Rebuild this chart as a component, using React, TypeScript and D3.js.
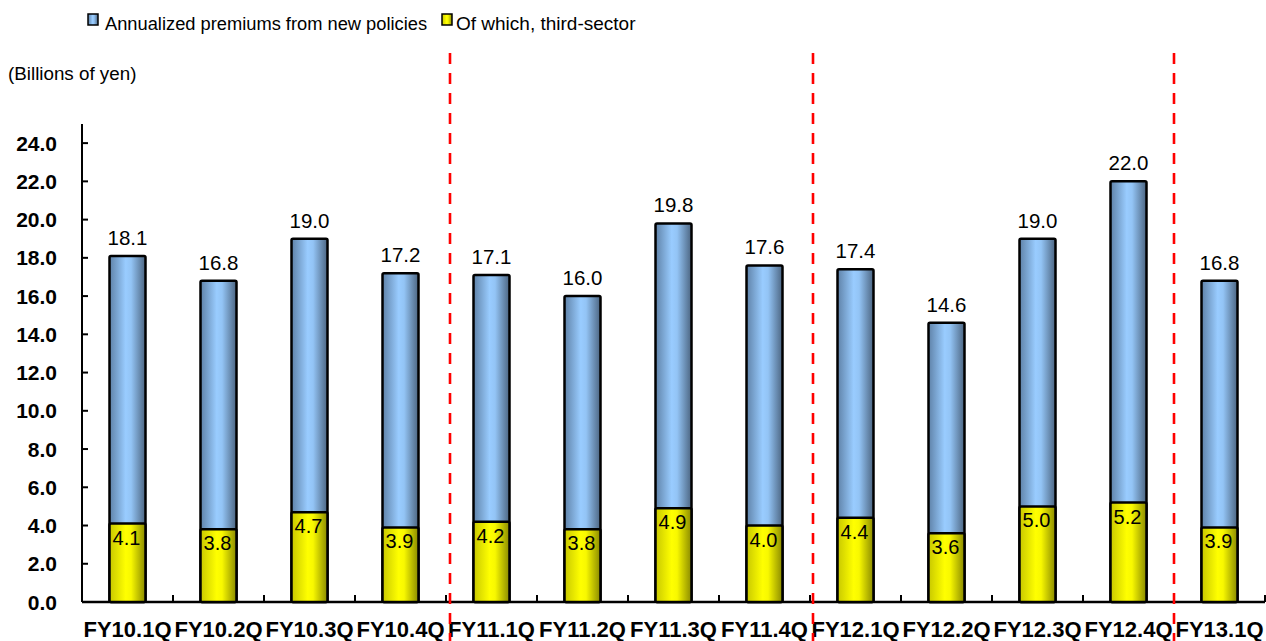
import React from "react";
import * as d3 from "d3";

const categories = ["FY10.1Q","FY10.2Q","FY10.3Q","FY10.4Q","FY11.1Q","FY11.2Q","FY11.3Q","FY11.4Q","FY12.1Q","FY12.2Q","FY12.3Q","FY12.4Q","FY13.1Q"];
const totals = [18.1,16.8,19.0,17.2,17.1,16.0,19.8,17.6,17.4,14.6,19.0,22.0,16.8];
const thirdSector = [4.1,3.8,4.7,3.9,4.2,3.8,4.9,4.0,4.4,3.6,5.0,5.2,3.9];
const yTicks = [0,2,4,6,8,10,12,14,16,18,20,22,24];
const dividerAfter = [4, 8, 12];
const legendLabels = ["Annualized premiums from new policies", "Of which, third-sector"];
const unitLabel = "(Billions of yen)";

const W = 1266, H = 641;
const left = 82, right = 1265, top = 124, bottom = 602;
const FONT = "Arial, 'Liberation Sans', sans-serif";

export default function App() {
  const x = d3.scaleBand<string>().domain(categories).range([left, right]).paddingInner(0).paddingOuter(0);
  const y = d3.scaleLinear().domain([0, 25]).range([bottom, top]);
  const bw = 36;
  const fmt = d3.format(".1f");
  const bandEdges = d3.range(categories.length + 1).map(i => left + i * x.bandwidth());

  return (
    <svg width={W} height={H} style={{ position: "absolute", left: 0, top: 0, background: "#fff" }} fontFamily={FONT}>
      <defs>
        <linearGradient id="gBlue" x1="0" x2="1" y1="0" y2="0">
          <stop offset="0" stopColor="#5f82a8" />
          <stop offset="0.45" stopColor="#99ccff" />
          <stop offset="0.6" stopColor="#93c4f5" />
          <stop offset="1" stopColor="#4c6581" />
        </linearGradient>
        <linearGradient id="gYellow" x1="0" x2="1" y1="0" y2="0">
          <stop offset="0" stopColor="#c8c800" />
          <stop offset="0.45" stopColor="#ffff00" />
          <stop offset="0.6" stopColor="#f8f800" />
          <stop offset="1" stopColor="#8a8a00" />
        </linearGradient>
      </defs>

      {/* legend */}
      <rect x={88} y={14} width={10} height={11} fill="url(#gBlue)" stroke="#000" strokeWidth={1.5} />
      <text x={105} y={30} fontSize={18.3} fill="#000">{legendLabels[0]}</text>
      <rect x={442} y={14} width={10} height={11} fill="url(#gYellow)" stroke="#000" strokeWidth={1.5} />
      <text x={456} y={30} fontSize={19} fill="#000">{legendLabels[1]}</text>

      <text x={8} y={80} fontSize={18.8} fill="#000">{unitLabel}</text>

      {/* y axis */}
      <line x1={left} x2={left} y1={y(25)} y2={bottom} stroke="#000" strokeWidth={2} />
      {yTicks.map(t => (
        <g key={t}>
          <line x1={left} x2={left + 6} y1={y(t)} y2={y(t)} stroke="#000" strokeWidth={2} />
          <text x={57} y={y(t) + 7.5} fontSize={21} fontWeight="bold" textAnchor="end" fill="#000">{fmt(t)}</text>
        </g>
      ))}

      {/* x axis */}
      <line x1={left} x2={right} y1={bottom} y2={bottom} stroke="#000" strokeWidth={2.5} />
      {bandEdges.map((e, i) => (
        <line key={i} x1={e} x2={e} y1={bottom} y2={bottom - 7} stroke="#000" strokeWidth={2} />
      ))}

      {/* bars */}
      {categories.map((c, i) => {
        const cx = (x(c) as number) + x.bandwidth() / 2;
        return (
          <g key={c}>
            <rect x={cx - bw / 2} y={y(totals[i])} width={bw} height={bottom - y(totals[i])} fill="url(#gBlue)" stroke="#000" strokeWidth={2.5} rx={1.5} />
            <rect x={cx - bw / 2} y={y(thirdSector[i])} width={bw} height={bottom - y(thirdSector[i])} fill="url(#gYellow)" stroke="#000" strokeWidth={2.5} rx={1.5} />
            <text x={cx} y={y(totals[i]) - 11} fontSize={20.5} textAnchor="middle" fill="#000">{fmt(totals[i])}</text>
            <text x={cx - 1} y={y(thirdSector[i]) + 21} fontSize={20} textAnchor="middle" fill="#000">{fmt(thirdSector[i])}</text>
            <text x={cx} y={637} fontSize={22} fontWeight="bold" textAnchor="middle" fill="#000">{c}</text>
          </g>
        );
      })}

      {/* dividers */}
      {dividerAfter.map((k, i) => {
        const xx = bandEdges[k] + (i === 0 ? 4 : i === 1 ? 3 : 0);
        return <line key={k} x1={xx} x2={xx} y1={53} y2={H} stroke="#ff0000" strokeWidth={2.6} strokeDasharray="11 9" />;
      })}
    </svg>
  );
}
